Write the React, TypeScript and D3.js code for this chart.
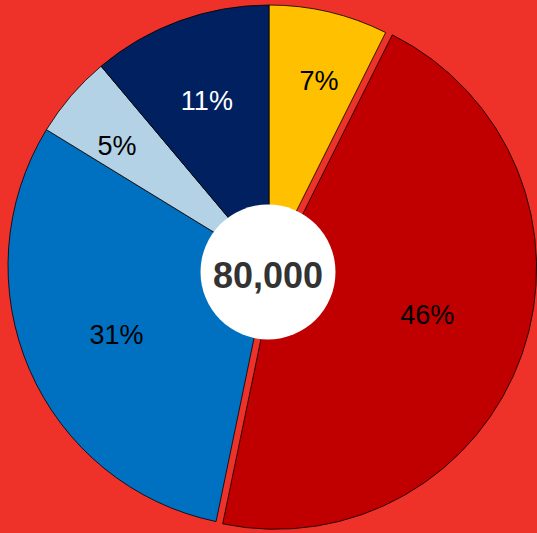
import React from "react";
import * as d3 from "d3";

const categories = ["A", "B", "C", "D", "E"];
const values = [5900, 36700, 24400, 4100, 8900];
const colors = ["#FFC000", "#C00000", "#0070C0", "#B4D2E6", "#002060"];
const labelColors = ["#000", "#000", "#000", "#000", "#fff"];
const labelRadiusFrac = [0.736, 0.608, 0.641, 0.744, 0.679];
const labelAngleShiftDeg = [1.8, -2.1, -0.8, -2.2, -0.5];
const exploded = [false, true, false, false, false];
const totalLabel = "80,000";

const W = 537;
const H = 533;
const CX = 269;
const CY = 266;
const R = 261;
const EXPLODE = 7;
const LABEL_FONT = 27;

export default function App() {
  const total = d3.sum(values);
  const pie = d3.pie<number>().sort(null).value((d) => d);
  const arcs = pie(values);
  const arc = d3.arc<d3.PieArcDatum<number>>().innerRadius(0).outerRadius(R);

  return (
    <svg
      width={W}
      height={H}
      style={{ position: "absolute", left: 0, top: 0, display: "block" }}
      fontFamily="'Liberation Sans', Arial, sans-serif"
    >
      <rect x={0} y={0} width={W} height={H} fill="#EF3229" />
      <g transform={`translate(${CX},${CY})`}>
        {arcs.map((a, i) => {
          const mid = (a.startAngle + a.endAngle) / 2;
          const off = exploded[i] ? EXPLODE : 0;
          const dx = Math.sin(mid) * off;
          const dy = -Math.cos(mid) * off;
          return (
            <path
              key={categories[i]}
              d={arc(a) as string}
              fill={colors[i]}
              stroke="#000"
              strokeWidth={0.8}
              transform={`translate(${dx},${dy})`}
            />
          );
        })}
        {arcs.map((a, i) => {
          const mid = (a.startAngle + a.endAngle) / 2;
          const off = exploded[i] ? EXPLODE : 0;
          const ox = Math.sin(mid) * off;
          const oy = -Math.cos(mid) * off;
          const ang = mid + (labelAngleShiftDeg[i] * Math.PI) / 180;
          const lr = R * labelRadiusFrac[i];
          const x = ox + Math.sin(ang) * lr;
          const y = oy - Math.cos(ang) * lr;
          const pct = Math.round((values[i] / total) * 100);
          return (
            <text
              key={"l" + categories[i]}
              x={x}
              y={y + LABEL_FONT * 0.358}
              textAnchor="middle"
              fontSize={LABEL_FONT}
              fill={labelColors[i]}
            >
              {pct}%
            </text>
          );
        })}
      </g>
      <circle cx={268} cy={272} r={67.5} fill="#fff" />
      <text
        x={268}
        y={288}
        textAnchor="middle"
        fontSize={36}
        fontWeight="bold"
        fill="#333"
      >
        {totalLabel}
      </text>
    </svg>
  );
}
